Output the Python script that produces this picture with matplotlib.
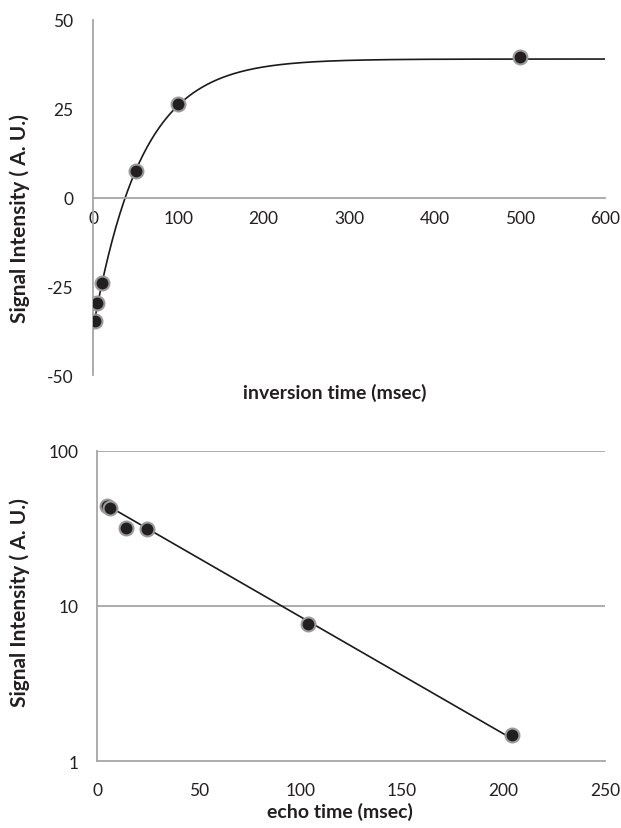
"""
Inversion recovery (T1) and spin echo (T2) signal curves
"""
import numpy as np
import matplotlib
matplotlib.use("Agg")
import matplotlib.pyplot as plt
from matplotlib.ticker import FixedLocator, NullLocator, FixedFormatter

plt.rcParams['font.family'] = ['Lato', 'DejaVu Sans']
plt.rcParams['axes.unicode_minus'] = False

# top panel: inversion recovery
ti_ms = [2, 5, 10, 50, 100, 500]
ti_signal = [-34.8, -29.8, -24.2, 7.5, 26.2, 39.5]
# fitted model S = A - B * exp(-TI / T1)
t1_fit_a = 39.0
t1_fit_b = 76.0
t1_fit_t1 = 56.6
ti_ticks = [0, 100, 200, 300, 400, 500, 600]
si_ticks = [-50, -25, 0, 25, 50]

# bottom panel: echo decay
te_ms = [4.7, 6.6, 14.4, 24.4, 104, 204]
te_signal = [44.4, 42.9, 31.8, 31.3, 7.7, 1.48]
# fitted model S = A * exp(-TE / T2)
t2_fit_a = 48.6
t2_fit_t2 = 57.5
te_ticks = [0, 50, 100, 150, 200, 250]
log_ticks = [1, 10, 100]

AXIS_GREY = "#a6a6a6"
TEXT = "#231f20"
DOT = "#231f20"
DOT_EDGE = "#9a9a9a"
TICK_SIZE = 12.5
XLABEL_SIZE = 14
YLABEL_SIZE = 15

fig = plt.figure(figsize=(6.21, 8.29), dpi=100)

# ---- top panel
ax1 = fig.add_axes([0.1498, 0.5464, 0.8245, 0.4283])
ti_curve = np.linspace(0, 600, 400)
ax1.plot(ti_curve, t1_fit_a - t1_fit_b * np.exp(-ti_curve / t1_fit_t1),
         color="#1a1a1a", lw=1.2, zorder=2)
ax1.plot(ti_ms, ti_signal, "o", ms=10, mfc=DOT, mec=DOT_EDGE, mew=1.5, zorder=3)
ax1.set_xlim(0, 600)
ax1.set_ylim(-50, 50)
ax1.spines['left'].set_position(('data', 0))
ax1.spines['bottom'].set_position(('data', 0))
for s in ['top', 'right']:
    ax1.spines[s].set_visible(False)
for s in ['left', 'bottom']:
    ax1.spines[s].set_color(AXIS_GREY)
    ax1.spines[s].set_linewidth(1.3)
ax1.set_xticks(ti_ticks)
ax1.set_yticks(si_ticks)
ax1.tick_params(axis='x', length=0, pad=9, labelsize=TICK_SIZE, colors=TEXT)
ax1.tick_params(axis='y', length=0, pad=14, labelsize=TICK_SIZE, colors=TEXT)
fig.text(335 / 621, 1 - 393 / 829, "inversion time (msec)", ha="center", va="center",
         fontsize=XLABEL_SIZE, fontweight="bold", color=TEXT)
fig.text(20 / 621, 1 - 219 / 829, "Signal Intensity ( A. U.)", ha="center", va="center",
         rotation=90, fontsize=YLABEL_SIZE, fontweight="bold", color=TEXT)

# ---- bottom panel
ax2 = fig.add_axes([0.1562, 0.0808, 0.8180, 0.3740])
te_curve = np.linspace(min(te_ms), max(te_ms), 200)
ax2.plot(te_curve, t2_fit_a * np.exp(-te_curve / t2_fit_t2),
         color="#1a1a1a", lw=1.2, zorder=2)
ax2.plot(te_ms, te_signal, "o", ms=10, mfc=DOT, mec=DOT_EDGE, mew=1.5, zorder=3)
ax2.set_yscale("log")
ax2.set_xlim(0, 250)
ax2.set_ylim(1, 100)
ax2.yaxis.set_major_locator(FixedLocator(log_ticks))
ax2.yaxis.set_major_formatter(FixedFormatter([str(v) for v in log_ticks]))
ax2.yaxis.set_minor_locator(NullLocator())
ax2.set_xticks(te_ticks)
for v in log_ticks[1:]:
    ax2.axhline(v, color=AXIS_GREY, lw=1.3, zorder=1)
for s in ['top', 'right']:
    ax2.spines[s].set_visible(False)
for s in ['left', 'bottom']:
    ax2.spines[s].set_color(AXIS_GREY)
    ax2.spines[s].set_linewidth(1.3)
ax2.tick_params(axis='x', length=0, pad=15, labelsize=TICK_SIZE, colors=TEXT)
ax2.tick_params(axis='y', length=0, pad=13, labelsize=TICK_SIZE, colors=TEXT)
fig.text(340 / 621, 1 - 812 / 829, "echo time (msec)", ha="center", va="center",
         fontsize=XLABEL_SIZE, fontweight="bold", color=TEXT)
fig.text(20 / 621, 1 - 603 / 829, "Signal Intensity ( A. U.)", ha="center", va="center",
         rotation=90, fontsize=YLABEL_SIZE, fontweight="bold", color=TEXT)

fig.savefig("out.png", dpi=100)
